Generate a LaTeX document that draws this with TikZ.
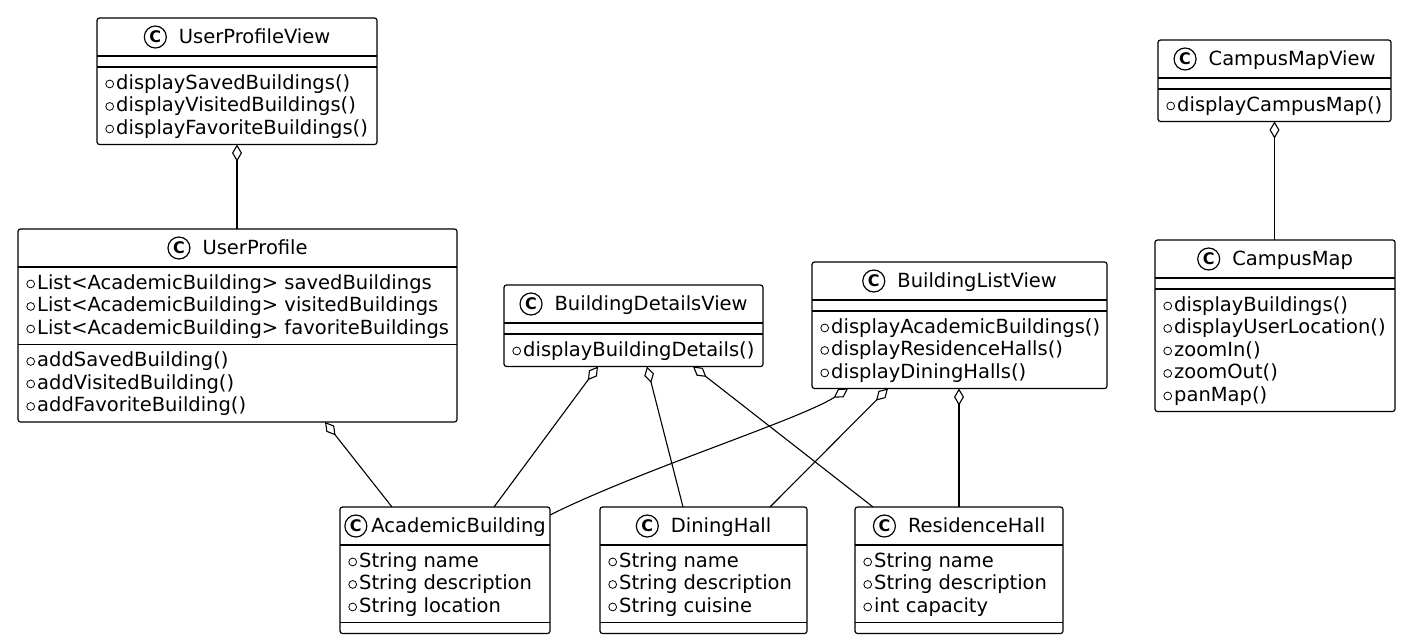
\documentclass[tikz,border=0pt]{standalone}
\usepackage{fontspec}
\setmainfont{DejaVu Sans}
\usetikzlibrary{arrows.meta}

% class icon and public marker
\newcommand{\tgap}{12pt}
\newcommand{\cicon}{\tikz[baseline={(0pt,-6.5pt)}]\node[circle, draw, line width=1.2pt, inner sep=0pt, minimum size=22pt, font=\bfseries\fontsize{16}{16}\selectfont] {C};}
\newcommand{\vis}{\strut\tikz[baseline=0pt]{\useasboundingbox (0pt,0pt) rectangle (13pt,1pt); \draw[line width=0.8pt] (6.5pt,5.5pt) circle (3.9pt);}}

\tikzset{
  classbox/.style={draw, line width=1.2pt, rounded corners=2.5pt, fill=white, anchor=north west, inner sep=0pt, outer sep=0pt},
  classtitle/.style={inner sep=0pt, font=\fontsize{19.5}{22.5}\selectfont},
  members/.style={anchor=north west, inner sep=0pt, align=left, font=\fontsize{19.5}{22.5}\selectfont},
  classline/.style={line width=1.2pt},
  aggr/.style={{Diamond[open, length=17pt, width=10pt]}-, line width=1.1pt},
}

% name, left, top, width, title, #attributes, attributes, #methods, methods
\newcommand{\umlclass}[9]{%
  \pgfmathsetmacro\hA{ifthenelse(#6==0,11,#6*22.5+10)}%
  \pgfmathsetmacro\hM{ifthenelse(#8==0,11,#8*22.5+10)}%
  \pgfmathsetmacro\hT{38+\hA+\hM}%
  \pgfmathsetmacro\yB{38+\hA}%
  \node[classbox, minimum width=#4pt, minimum height=\hT pt] (#1) at (#2,#3) {};
  \node[classtitle] (#1-title) at ([yshift=-19pt]#1.north) {\cicon\hspace{\tgap}#5};
  \draw[classline] ([yshift=-38pt]#1.north west) -- ([yshift=-38pt]#1.north east);
  \draw[classline] ([yshift=-\yB pt]#1.north west) -- ([yshift=-\yB pt]#1.north east);
  \ifnum#6>0 \node[members] (#1-attr) at ([xshift=6pt, yshift=-44.5pt]#1.north west) {#7};\fi
  \ifnum#8>0 \node[members] (#1-meth) at ([xshift=6pt, yshift=-\yB pt-6.5pt]#1.north west) {#9};\fi
}

\begin{document}
\begin{tikzpicture}[x=1pt, y=-1pt]
  \useasboundingbox (0,0) rectangle (1402,642);

  % views and profile
  \umlclass{upv}{97}{18}{280}{UserProfileView}{0}{}{3}
    {\vis displaySavedBuildings()\\ \vis displayVisitedBuildings()\\ \vis displayFavoriteBuildings()}
  \umlclass{up}{18}{229}{439}{UserProfile}{3}
    {\vis List<AcademicBuilding> savedBuildings\\ \vis List<AcademicBuilding> visitedBuildings\\ \vis List<AcademicBuilding> favoriteBuildings}{3}
    {\vis addSavedBuilding()\\ \vis addVisitedBuilding()\\ \vis addFavoriteBuilding()}
  \umlclass{bdv}{504}{285}{259}{BuildingDetailsView}{0}{}{1}
    {\vis displayBuildingDetails()}
  \umlclass{blv}{812}{262}{295}{BuildingListView}{0}{}{3}
    {\vis displayAcademicBuildings()\\ \vis displayResidenceHalls()\\ \vis displayDiningHalls()}
  \umlclass{cmv}{1158}{40}{233}{CampusMapView}{0}{}{1}
    {\vis displayCampusMap()}
  \umlclass{cm}{1155}{240}{240}{CampusMap}{0}{}{5}
    {\vis displayBuildings()\\ \vis displayUserLocation()\\ \vis zoomIn()\\ \vis zoomOut()\\ \vis panMap()}

  % buildings
  \renewcommand{\tgap}{4pt}
  \umlclass{ab}{340}{507}{210}{AcademicBuilding}{3}
    {\vis String name\\ \vis String description\\ \vis String location}{0}{}
  \renewcommand{\tgap}{12pt}
  \umlclass{dh}{600}{507}{207}{DiningHall}{3}
    {\vis String name\\ \vis String description\\ \vis String cuisine}{0}{}
  \umlclass{rh}{855}{507}{208}{ResidenceHall}{3}
    {\vis String name\\ \vis String description\\ \vis int capacity}{0}{}

  % aggregations
  \draw[aggr] (upv.south) -- (upv.south |- up.north);
  \draw[aggr] (cmv.south) -- (cmv.south |- cm.north);
  \draw[aggr] ([xshift=307pt]up.south west) -- ([xshift=52pt]ab.north west);
  \draw[aggr] ([xshift=94pt]bdv.south west) -- ([xshift=154pt]ab.north west);
  \draw[aggr] ([xshift=143pt]bdv.south west) -- ([xshift=83pt]dh.north west);
  \draw[aggr] ([xshift=189pt]bdv.south west) -- ([xshift=18pt]rh.north west);
  \draw[aggr] ([xshift=36pt]blv.south west) .. controls +(-48,31) and +(90,-45) .. ([yshift=-8pt]ab.north east);
  \draw[aggr] ([xshift=76pt]blv.south west) -- ([xshift=170pt]dh.north west);
  \draw[aggr] ([xshift=147pt]blv.south west) -- ([xshift=104pt]rh.north west);
\end{tikzpicture}
\end{document}
